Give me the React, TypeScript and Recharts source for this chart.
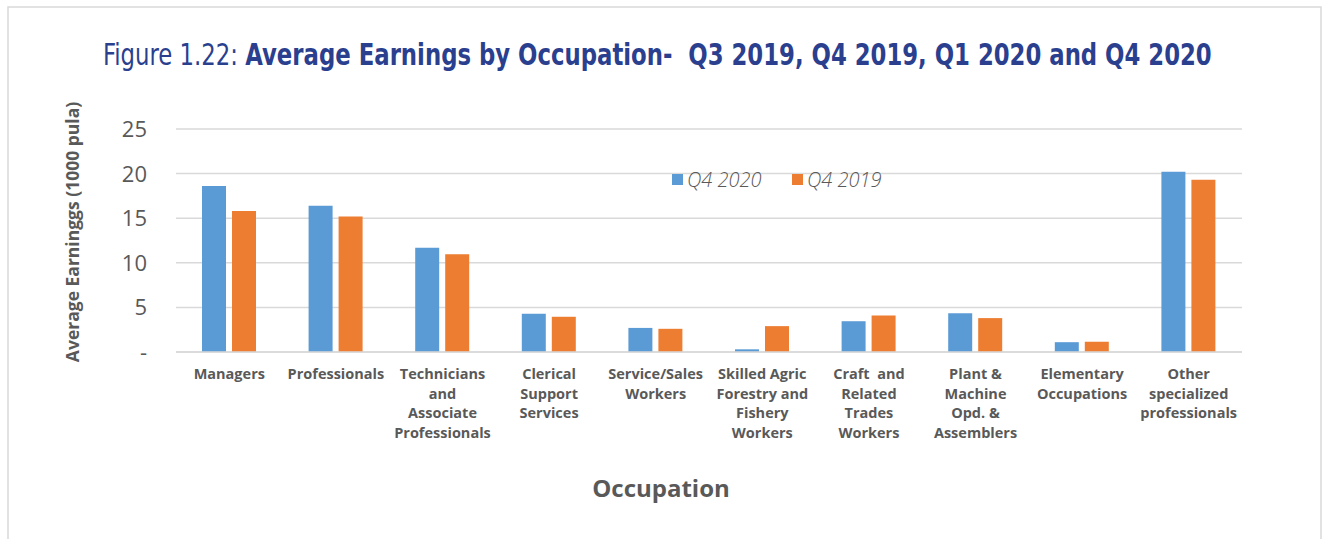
import React from 'react';
import { BarChart, Bar, XAxis, YAxis, CartesianGrid, Legend } from 'recharts';

const occupations = [
    'Managers',
    'Professionals',
    'Technicians\nand\nAssociate\nProfessionals',
    'Clerical\nSupport\nServices',
    'Service/Sales\nWorkers',
    'Skilled Agric\nForestry and\nFishery\nWorkers',
    'Craft  and\nRelated\nTrades\nWorkers',
    'Plant &\nMachine\nOpd. &\nAssemblers',
    'Elementary\nOccupations',
    'Other\nspecialized\nprofessionals',
];

const q4_2020 = [18.6, 16.4, 11.7, 4.3, 2.7, 0.3, 3.45, 4.35, 1.1, 20.2];
const q4_2019 = [15.8, 15.2, 10.95, 3.95, 2.6, 2.9, 4.1, 3.8, 1.15, 19.3];

const yTicks = [0, 5, 10, 15, 20, 25];

const seriesNames = ['Q4 2020', 'Q4 2019'];
const seriesColors = ['#5B9BD5', '#ED7D31'];

const data = occupations.map((name, i) => ({ name, q4_2020: q4_2020[i], q4_2019: q4_2019[i] }));

const FONT = '"Open Sans", "DejaVu Sans", sans-serif';
const TITLE_FONT = '"Liberation Sans Narrow", "DejaVu Sans Condensed", sans-serif';
const GREY = '#595959';

const formatY = (v: number) => (v === 0 ? '-' : String(v));

const XTick = (props: any) => {
    const { x, payload } = props;
    const lines = String(payload.value).split('\n');
    return (
        <text x={x} y={379} textAnchor="middle" fontFamily={FONT} fontWeight={700} fontSize={14.5} fill={GREY} style={{ whiteSpace: 'pre' }}>
            {lines.map((l, i) => (
                <tspan key={i} x={x} dy={i === 0 ? 0 : 19.7}>{l}</tspan>
            ))}
        </text>
    );
};

const YTick = (props: any) => {
    const { y, payload } = props;
    return (
        <text x={147} y={y + 8} textAnchor="end" fontFamily={FONT} fontWeight={400} fontSize={22} fill={GREY}>
            {formatY(payload.value)}
        </text>
    );
};

const LegendContent = () => (
    <svg width={280} height={36} style={{ overflow: 'visible' }}>
        {seriesNames.map((s, i) => (
            <g key={s} transform={`translate(${i * 120},0)`}>
                <rect x={0} y={6} width={11} height={11} fill={seriesColors[i]} />
                <text x={15} y={19} fontFamily={FONT} fontStyle="italic" fontWeight={300} fontSize={20} fill={GREY}>{s}</text>
            </g>
        ))}
    </svg>
);

export default function App() {
    return (
        <div style={{ position: 'absolute', left: 0, top: 0, width: 1324, height: 539, background: '#fff' }}>
            <BarChart
                width={1324}
                height={539}
                data={data}
                margin={{ top: 129, right: 82, bottom: 157, left: 0 }}
                barSize={24}
                barGap={6}
                style={{ position: 'absolute', left: 0, top: 0 }}
            >
                <CartesianGrid vertical={false} stroke="#D9D9D9" strokeWidth={1.5} />
                <XAxis dataKey="name" height={30} interval={0} axisLine={{ stroke: '#D9D9D9', strokeWidth: 1.5 }} tickLine={false} tick={<XTick />} />
                <YAxis width={176} domain={[0, 25]} ticks={yTicks} axisLine={false} tickLine={false} tick={<YTick />} />
                <Legend verticalAlign="middle" content={<LegendContent />} wrapperStyle={{ position: 'absolute', left: 672, top: 168, width: 280, height: 36 }} />
                <Bar dataKey="q4_2020" name={seriesNames[0]} fill={seriesColors[0]} isAnimationActive={false} />
                <Bar dataKey="q4_2019" name={seriesNames[1]} fill={seriesColors[1]} isAnimationActive={false} />
            </BarChart>
            <svg width={1324} height={539} style={{ position: 'absolute', left: 0, top: 0, pointerEvents: 'none' }}>
                <polyline points="8,539 8,7 1321,7 1321,539" fill="none" stroke="#D9D9D9" strokeWidth={1.5} />
                <g transform="translate(103,65) scale(0.818,1)">
                    <text x={0} y={0} fontFamily={TITLE_FONT} fontSize={31} fill="#2B3F8F" style={{ whiteSpace: 'pre' }}>
                        <tspan fontWeight={400}>Figure 1.22: </tspan>
                        <tspan fontWeight={700}>Average Earnings by Occupation-  Q3 2019, Q4 2019, Q1 2020 and Q4 2020</tspan>
                    </text>
                </g>
                <text transform="translate(79,232) rotate(-90)" textAnchor="middle" fontFamily={FONT} fontWeight={700} fontSize={17.5} fill={GREY}>
                    Average Earninggs (1000 pula)
                </text>
                <text x={661} y={497} textAnchor="middle" fontFamily={FONT} fontWeight={700} fontSize={24} fill={GREY}>
                    Occupation
                </text>
            </svg>
        </div>
    );
}
